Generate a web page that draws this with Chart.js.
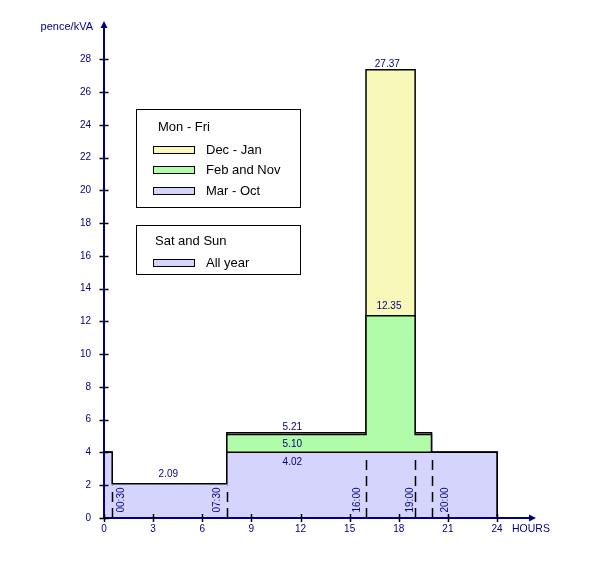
<!DOCTYPE html>
<html>
<head>
<meta charset="utf-8">
<script src="https://cdn.jsdelivr.net/npm/chart.js@4.4.1/dist/chart.umd.min.js"></script>
<style>
    body { margin: 0; background: #fff; }
    #wrap { width: 600px; height: 567px; position: relative; }
</style>
</head>
<body>
<div id="wrap"><canvas id="tariff-chart"></canvas></div>
<script>
// ============================================
// Data (value holds from each start hour to the next)
// ============================================

const startHours = [0, 0.5, 7.5, 16, 19, 20];
const endHour = 24;
const marOct = [4.02, 2.09, 4.02, 4.02, 4.02, 4.02];
const febNov = [4.02, 2.09, 5.10, 12.35, 5.10, 4.02];
const decJan = [4.02, 2.09, 5.21, 27.37, 5.21, 4.02];

const yTicks = [0, 2, 4, 6, 8, 10, 12, 14, 16, 18, 20, 22, 24, 26, 28];
const xTicks = [0, 3, 6, 9, 12, 15, 18, 21, 24];

const markHours = [0.5, 7.5, 16, 19, 20];
const markLevels = [2.09, 2.09, 4.02, 4.02, 4.02];
const markLabels = ['00:30', '07:30', '16:00', '19:00', '20:00'];

const valueHours = [3.93, 11.5, 11.5, 11.5, 17.3, 17.4];
const valueLevels = [2.09, 5.21, 5.10, 4.02, 27.37, 12.35];

const seriesNames = ['Mar - Oct', 'Feb and Nov', 'Dec - Jan'];

// ============================================
// Helpers
// ============================================

const FONT = "'Liberation Sans', Arial, sans-serif";
const NAVY = '#000080';
const COLORS = ['#d4d4fc', '#b0fca8', '#f8f8b8'];

function stepPoints(values) {
    const pts = [{ x: startHours[0], y: 0 }];
    startHours.forEach((h, i) => pts.push({ x: h, y: values[i] }));
    pts.push({ x: endHour, y: values[values.length - 1] });
    pts.push({ x: endHour, y: 0 });
    return pts;
}

function makeDataset(label, values, color) {
    return {
        label: label,
        data: stepPoints(values),
        stepped: true,
        fill: 'origin',
        backgroundColor: color,
        borderColor: '#000',
        borderWidth: 1.5,
        pointRadius: 0,
        clip: false
    };
}

// ============================================
// Overlay plugin: axes, markers, labels, legend
// ============================================

const overlay = {
    id: 'overlay',
    afterDatasetsDraw(chart) {
        const ctx = chart.ctx;
        const xs = chart.scales.x;
        const ys = chart.scales.y;
        const x0 = xs.getPixelForValue(0);
        const y0 = ys.getPixelForValue(0);

        ctx.save();

        // dashed time markers
        ctx.strokeStyle = '#000';
        ctx.lineWidth = 1.5;
        ctx.setLineDash([10, 6]);
        markHours.forEach((h, i) => {
            const px = Math.round(xs.getPixelForValue(h)) + 0.5;
            ctx.beginPath();
            ctx.moveTo(px, y0);
            ctx.lineTo(px, ys.getPixelForValue(markLevels[i]) + 2);
            ctx.stroke();
        });
        ctx.setLineDash([]);

        // rotated time labels
        const markOffsets = [9.5, -10, -9, -4.5, 13.5];
        ctx.fillStyle = NAVY;
        ctx.font = '10px ' + FONT;
        ctx.textAlign = 'center';
        ctx.textBaseline = 'middle';
        markHours.forEach((h, i) => {
            ctx.save();
            ctx.translate(xs.getPixelForValue(h) + markOffsets[i], y0 - 18);
            ctx.rotate(-Math.PI / 2);
            ctx.fillText(markLabels[i], 0, 0);
            ctx.restore();
        });

        // value labels
        const valueOffsets = [-10, -5, 10, 10, -5, -9];
        valueHours.forEach((h, i) => {
            ctx.fillText(valueLevels[i].toFixed(2),
                xs.getPixelForValue(h),
                ys.getPixelForValue(valueLevels[i]) + valueOffsets[i]);
        });

        // axes
        const xEnd = chart.chartArea.right;
        const yEnd = chart.chartArea.top;
        ctx.strokeStyle = NAVY;
        ctx.lineWidth = 2;
        ctx.beginPath();
        ctx.moveTo(x0, y0);
        ctx.lineTo(x0, yEnd + 4);
        ctx.moveTo(x0, y0);
        ctx.lineTo(xEnd - 4, y0);
        ctx.stroke();

        ctx.fillStyle = NAVY;
        ctx.beginPath();
        ctx.moveTo(x0, yEnd - 1);
        ctx.lineTo(x0 - 3.5, yEnd + 6);
        ctx.lineTo(x0 + 3.5, yEnd + 6);
        ctx.closePath();
        ctx.fill();
        ctx.beginPath();
        ctx.moveTo(xEnd + 1, y0);
        ctx.lineTo(xEnd - 6, y0 - 3.5);
        ctx.lineTo(xEnd - 6, y0 + 3.5);
        ctx.closePath();
        ctx.fill();

        // tick marks
        ctx.strokeStyle = '#000';
        ctx.lineWidth = 1.5;
        ctx.beginPath();
        yTicks.forEach(v => {
            const py = Math.round(ys.getPixelForValue(v)) + 0.5;
            ctx.moveTo(x0 - 4.5, py);
            ctx.lineTo(x0 + 4.5, py);
        });
        xTicks.forEach(v => {
            const px = Math.round(xs.getPixelForValue(v)) + 0.5;
            ctx.moveTo(px, y0 - 4);
            ctx.lineTo(px, y0 + 4);
        });
        ctx.stroke();

        // tick labels
        ctx.fillStyle = NAVY;
        ctx.font = '10px ' + FONT;
        ctx.textAlign = 'right';
        ctx.textBaseline = 'middle';
        yTicks.forEach(v => ctx.fillText(String(v), x0 - 13, ys.getPixelForValue(v)));
        ctx.textAlign = 'center';
        xTicks.forEach(v => ctx.fillText(String(v), xs.getPixelForValue(v), y0 + 11));

        // axis titles
        ctx.font = '11px ' + FONT;
        ctx.textAlign = 'right';
        ctx.fillText('pence/kVA', x0 - 11, 27);
        ctx.textAlign = 'left';
        ctx.font = '10.5px ' + FONT;
        ctx.fillText('HOURS', 512, y0 + 11);

        // legend boxes
        ctx.strokeStyle = '#000';
        ctx.lineWidth = 1;
        ctx.strokeRect(136.5, 109.5, 164, 98);
        ctx.strokeRect(136.5, 225.5, 164, 49);

        ctx.fillStyle = '#000';
        ctx.font = '13px ' + FONT;
        ctx.textAlign = 'left';
        ctx.fillText('Mon - Fri', 158, 127);
        ctx.fillText('Sat and Sun', 155, 241);

        const rows = [
            { name: seriesNames[2], color: COLORS[2], y: 150 },
            { name: seriesNames[1], color: COLORS[1], y: 170 },
            { name: seriesNames[0], color: COLORS[0], y: 191 },
            { name: 'All year', color: COLORS[0], y: 263 }
        ];
        rows.forEach(r => {
            ctx.fillStyle = r.color;
            ctx.fillRect(153.5, r.y - 3.5, 41, 7);
            ctx.strokeRect(153.5, r.y - 3.5, 41, 7);
            ctx.fillStyle = '#000';
            ctx.fillText(r.name, 206, r.y + 0.5);
        });

        ctx.restore();
    }
};

// ============================================
// Chart
// ============================================

const ctx = document.getElementById('tariff-chart').getContext('2d');

const tariffChart = new Chart(ctx, {
    type: 'line',
    data: {
        datasets: [
            makeDataset(seriesNames[0], marOct, COLORS[0]),
            makeDataset(seriesNames[1], febNov, COLORS[1]),
            makeDataset(seriesNames[2], decJan, COLORS[2])
        ]
    },
    options: {
        responsive: true,
        maintainAspectRatio: false,
        animation: false,
        layout: {
            padding: { left: 104, right: 65, top: 22, bottom: 49 }
        },
        scales: {
            x: { type: 'linear', min: 0, max: 26.32, display: false },
            y: { type: 'linear', min: 0, max: 30.28, display: false }
        },
        plugins: {
            legend: { display: false },
            tooltip: { enabled: false }
        }
    },
    plugins: [overlay]
});
</script>
</body>
</html>
